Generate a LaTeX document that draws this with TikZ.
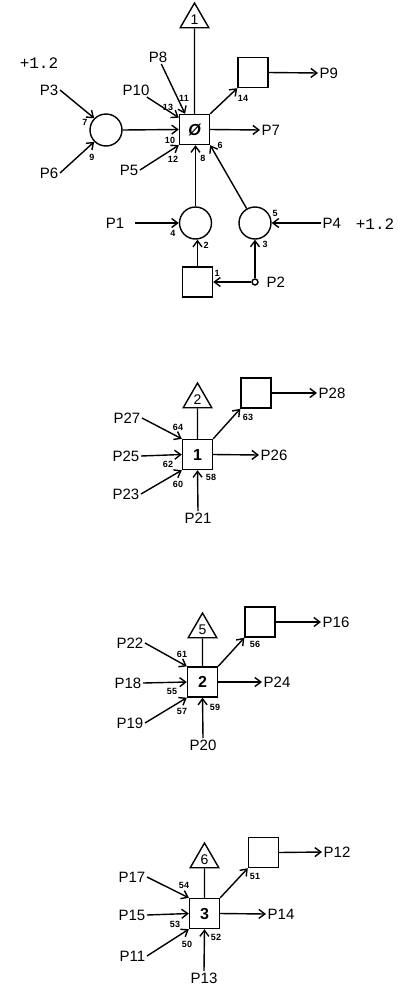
\documentclass[tikz,border=0pt]{standalone}
\usepackage{fontspec}
\setmainfont{Liberation Sans}
\newfontfamily\typefont{Liberation Mono}
\usepackage{tikz}
\usetikzlibrary{arrows.meta, shapes.geometric, positioning, calc}

\begin{document}
\begin{tikzpicture}[x=1pt, y=-1pt, line width=1.4pt,
		lbl/.style={font=\fontsize{15}{16}\selectfont, inner sep=1pt},
		num/.style={font=\fontsize{9}{10}\selectfont\bfseries, inner sep=0pt},
		gain/.style={font=\fontsize{16}{17}\selectfont\typefont, inner sep=0pt},
		sq/.style={draw, minimum size=30pt, inner sep=0pt, font=\fontsize{16}{17}\selectfont\bfseries},
		rnd/.style={draw, circle, minimum size=32pt, inner sep=0pt},
		tap/.style={draw, circle, minimum size=6pt, inner sep=0pt},
		tri/.style={draw, regular polygon, regular polygon sides=3, minimum size=33pt, inner sep=0pt, font=\fontsize{14}{15}\selectfont},
		flow/.style={-{Straight Barb[length=6pt,width=9pt]}}]
	\useasboundingbox (0,0) rectangle (398,988);

	% upper network
	\node[tri] (t0) at (194.5,19.5) {1};
	\node[sq] (b0) at (194.5,129.5) {\itshape Ø};
	\node[sq] (q14) at (253,72.5) {};
	\node[rnd] (c7) at (106,130) {};
	\node[rnd] (c2) at (195.5,223) {};
	\node[rnd] (c5) at (255,223) {};
	\node[sq] (qb) at (197.5,282) {};
	\node[tap] (tap2) at (255,282) {};
	\node[gain] (gain3) at (39,63) {+1.2};
	\node[gain] (gain4) at (375,224) {+1.2};
	\node[lbl, anchor=east] (p3) at (60,90) {P3};
	\node[lbl, anchor=east] (p6) at (60,173) {P6};
	\node[lbl] (p10) at (136,90) {P10};
	\node[lbl] (p8) at (158,57) {P8};
	\node[lbl, anchor=east] (p5) at (140,170) {P5};
	\node[lbl, anchor=west] (p7) at (260,130) {P7};
	\node[lbl, anchor=west] (p9) at (318,73) {P9};
	\node[lbl, anchor=east] (p1) at (126,223) {P1};
	\node[lbl, anchor=west] (p4) at (321,223) {P4};
	\node[lbl, anchor=west] (p2) at (265,282) {P2};

	\draw (t0.south) -- (b0.north);
	\draw[flow] (p3.east) -- (c7.135);
	\draw[flow] (p6.east) -- (c7.225);
	\draw[flow] (c7.east) -- (b0.west);
	\draw[flow] (p10) -- (b0.143);
	\draw[flow] (p8) -- (b0.121);
	\draw[flow] (p5.east) -- (b0.south west);
	\draw[flow] (b0.east) -- (p7.west);
	\draw[flow] (b0.north east) -- (q14.south west);
	\draw[flow] (q14.east) -- (p9.west);
	\draw[flow] (c2.north) -- (c2.north |- b0.south);
	\draw[flow] (c5) -- (b0.south east);
	\draw[flow, shorten <=9pt] (p1.east) -- (c2.west);
	\draw[flow] (p4.west) -- (c5.east);
	\draw[flow] (qb.north) -- (qb.north |- c2.south);
	\draw[flow] (tap2) -- (qb.east);
	\draw[flow] (tap2) -- (c5.south);

	\node[num] (n7) at (85,122) {7};
	\node[num] (n9) at (92,157) {9};
	\node[num] (n10) at (170,140) {10};
	\node[num] (n13) at (168,107) {13};
	\node[num] (n11) at (184,98) {11};
	\node[num] (n12) at (173,159) {12};
	\node[num] (n8) at (203,158) {8};
	\node[num] (n6) at (220,145) {6};
	\node[num] (n14) at (243,98) {14};
	\node[num] (n4) at (173,233) {4};
	\node[num] (n2) at (206,245) {2};
	\node[num] (n5) at (275,213) {5};
	\node[num] (n1) at (217,273) {1};
	\node[num] (n3) at (265,244) {3};

	% block 1
	\node[tri] (t2) at (197.5,399.5) {2};
	\node[sq] (b1) at (197.5,454.5) {1};
	\node[sq] (q63) at (256,393) {};
	\node[lbl, anchor=east] (p27) at (142,418) {P27};
	\node[lbl, anchor=east] (p25) at (141,456) {P25};
	\node[lbl, anchor=east] (p23) at (141,494) {P23};
	\node[lbl] (p21) at (198,518) {P21};
	\node[lbl, anchor=west] (p26) at (259,455) {P26};
	\node[lbl, anchor=west] (p28) at (317,393) {P28};
	\draw (t2.south) -- (b1.north);
	\draw[flow] (p27.east) -- (b1.north west);
	\draw[flow] (p25.east) -- (b1.west);
	\draw[flow] (p23.east) -- (b1.south west);
	\draw[flow] (p21.north) -- (b1.south);
	\draw[flow] (b1.east) -- (p26.west);
	\draw[flow] (b1.north east) -- (q63.south west);
	\draw[flow] (q63.east) -- (p28.west);
	\node[num] (n64) at (178,427) {64};
	\node[num] (n62) at (168,464) {62};
	\node[num] (n60) at (178,484) {60};
	\node[num] (n58) at (211,477) {58};
	\node[num] (n63) at (248,417) {63};

	% block 2
	\node[tri] (t5) at (202.5,629.5) {5};
	\node[sq] (b2) at (202.5,682) {2};
	\node[sq] (q56) at (260,622) {};
	\node[lbl, anchor=east] (p22) at (145,643) {P22};
	\node[lbl, anchor=east] (p18) at (143,683) {P18};
	\node[lbl, anchor=east] (p19) at (145,723) {P19};
	\node[lbl] (p20) at (203,745) {P20};
	\node[lbl, anchor=west] (p24) at (262,682) {P24};
	\node[lbl, anchor=west] (p16) at (321,622) {P16};
	\draw (t5.south) -- (b2.north);
	\draw[flow] (p22.east) -- (b2.north west);
	\draw[flow] (p18.east) -- (b2.west);
	\draw[flow] (p19.east) -- (b2.south west);
	\draw[flow] (p20.north) -- (b2.south);
	\draw[flow] (b2.east) -- (p24.west);
	\draw[flow] (b2.north east) -- (q56.south west);
	\draw[flow] (q56.east) -- (p16.west);
	\node[num] (n61) at (182,654) {61};
	\node[num] (n55) at (172,691) {55};
	\node[num] (n57) at (182,711) {57};
	\node[num] (n59) at (215,707) {59};
	\node[num] (n56) at (255,644) {56};

	% block 3
	\node[tri] (t6) at (204.5,859.5) {6};
	\node[sq] (b3) at (204.5,913.5) {3};
	\node[sq] (q51) at (263.5,852.5) {};
	\node[lbl, anchor=east] (p17) at (147,877) {P17};
	\node[lbl, anchor=east] (p15) at (147,915) {P15};
	\node[lbl, anchor=east] (p11) at (147,956) {P11};
	\node[lbl] (p13) at (204,978) {P13};
	\node[lbl, anchor=west] (p14) at (266,914) {P14};
	\node[lbl, anchor=west] (p12) at (322,852) {P12};
	\draw (t6.south) -- (b3.north);
	\draw[flow] (p17.east) -- (b3.north west);
	\draw[flow] (p15.east) -- (b3.west);
	\draw[flow] (p11.east) -- (b3.south west);
	\draw[flow] (p13.north) -- (b3.south);
	\draw[flow] (b3.east) -- (p14.west);
	\draw[flow] (b3.north east) -- (q51.south west);
	\draw[flow] (q51.east) -- (p12.west);
	\node[num] (n54) at (184,885) {54};
	\node[num] (n53) at (175,924) {53};
	\node[num] (n50) at (187,944) {50};
	\node[num] (n52) at (216,937) {52};
	\node[num] (n51) at (255,876) {51};
\end{tikzpicture}
\end{document}
